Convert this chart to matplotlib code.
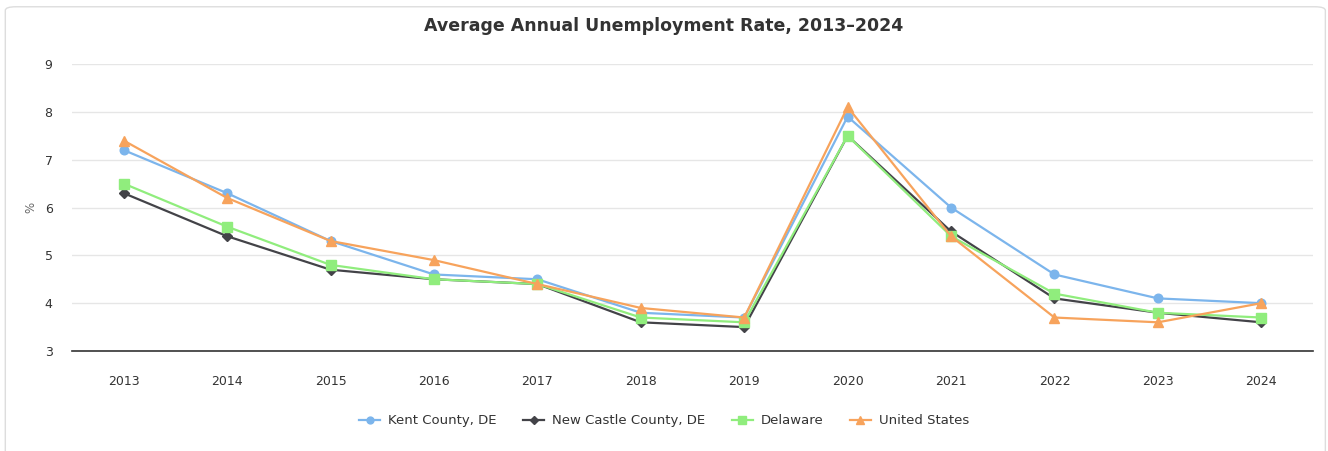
import matplotlib.pyplot as plt
from matplotlib.patches import FancyBboxPatch
import numpy as np

years = [2013, 2014, 2015, 2016, 2017, 2018, 2019, 2020, 2021, 2022, 2023, 2024]
kent = [7.2, 6.3, 5.3, 4.6, 4.5, 3.8, 3.7, 7.9, 6.0, 4.6, 4.1, 4.0]
new_castle = [6.3, 5.4, 4.7, 4.5, 4.4, 3.6, 3.5, 7.5, 5.5, 4.1, 3.8, 3.6]
delaware = [6.5, 5.6, 4.8, 4.5, 4.4, 3.7, 3.6, 7.5, 5.4, 4.2, 3.8, 3.7]
united_states = [7.4, 6.2, 5.3, 4.9, 4.4, 3.9, 3.7, 8.1, 5.4, 3.7, 3.6, 4.0]

series = [
    ("Kent County, DE", kent, "#7cb5ec", "o", 6.2),
    ("New Castle County, DE", new_castle, "#434348", "D", 4.6),
    ("Delaware", delaware, "#90ed7d", "s", 6.8),
    ("United States", united_states, "#f7a35c", "^", 6.8),
]

plt.rcParams['font.family'] = ['DejaVu Sans']

fig = plt.figure(figsize=(13.28, 4.51), dpi=100)
# rounded container border
fig.patches.append(FancyBboxPatch((0.004, -0.05), 0.994, 1.035,
                                  boxstyle="round,pad=0,rounding_size=0.008",
                                  transform=fig.transFigure, fc="white",
                                  ec="#dddddd", lw=1.0, zorder=-10))

ax = fig.add_axes([0.0542, 0.2217, 0.9345, 0.6364])
x = np.arange(len(years))
for name, vals, col, mk, ms in series:
    ax.plot(x, vals, color=col, marker=mk, markersize=ms, lw=1.6,
            label=name, clip_on=False, zorder=3)

ax.set_xlim(-0.5, len(years) - 0.5)
ax.set_ylim(3, 9)
ax.set_yticks(range(3, 10))
ax.set_xticks(x)
ax.set_xticklabels([str(y) for y in years])
ax.grid(axis='y', color='#e6e6e6', lw=1)
ax.set_axisbelow(True)
for s in ['top', 'right', 'left']:
    ax.spines[s].set_visible(False)
ax.spines['bottom'].set_color('#333333')
ax.spines['bottom'].set_linewidth(1.2)
ax.tick_params(axis='both', length=0, labelsize=9, colors='#333333')
ax.tick_params(axis='x', pad=17)
ax.tick_params(axis='y', pad=14)
ax.set_ylabel("%", fontsize=8.5, color='#666666', labelpad=5)
ax.patch.set_alpha(0)

fig.text(0.5, 0.943, "Average Annual Unemployment Rate, 2013\u20132024",
         ha='center', va='center', fontsize=12.5, fontweight='bold', color='#333333')

fig.legend(loc='center', bbox_to_anchor=(0.5, 0.067), ncol=4, frameon=False,
           fontsize=9.5, handlelength=1.6, columnspacing=2.0, handletextpad=0.6,
           markerscale=0.8, labelcolor='#333333')

fig.savefig("out.png", dpi=100)
